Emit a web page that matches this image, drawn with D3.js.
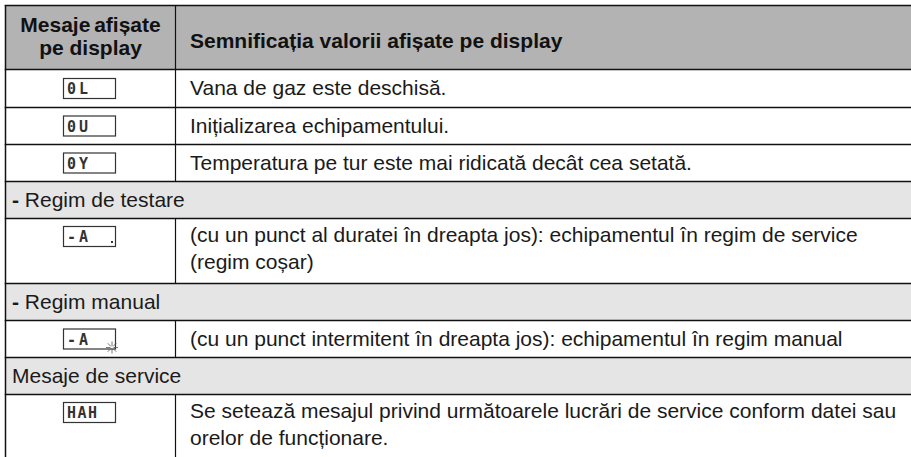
<!DOCTYPE html>
<html><head><meta charset="utf-8">
<script src="https://cdn.jsdelivr.net/npm/d3@7"></script>
<style>
html,body{margin:0;padding:0;background:#fff;}
svg{display:block;}
</style></head>
<body>
<script>
// ---- data ----
const headerCol1 = ["Mesaje afișate", "pe display"];
const headerCol2 = "Semnificația valorii afișate pe display";
const rowKinds = ["item","item","item","section","item","section","item","section","item"];
const rowCodes = ["0L","0U","0Y","","-A","","-A","","HAH"];
const rowMarks = ["","","","","dot","","flash","",""];
const rowDash  = [false,false,false,true,false,true,false,false,false];
const rowTexts = [
  ["Vana de gaz este deschisă."],
  ["Inițializarea echipamentului."],
  ["Temperatura pe tur este mai ridicată decât cea setată."],
  ["Regim de testare"],
  ["(cu un punct al duratei în dreapta jos): echipamentul în regim de service", "(regim coșar)"],
  ["Regim manual"],
  ["(cu un punct intermitent în dreapta jos): echipamentul în regim manual"],
  ["Mesaje de service"],
  ["Se setează mesajul privind următoarele lucrări de service conform datei sau", "orelor de funcționare."]
];

// ---- layout ----
const W = 911, H = 457;
const leftX = 5.5, colX = 175.5, rightX = 911;
const topY = 5, headerH = 64, baseRowH = 37, extraRow = 28, lineGap = 27;
const font = "'Liberation Sans', Arial, Helvetica, sans-serif";
const fs = 21;

const svg = d3.select("body").append("svg").attr("width", W).attr("height", H);

const rows = rowKinds.map((k, i) => ({kind:k, code:rowCodes[i], mark:rowMarks[i], dash:rowDash[i], lines:rowTexts[i]}));
let yy = topY + headerH;
rows.forEach((r, i) => {
  r.y0 = yy;
  r.h = (i === 0 ? baseRowH + 1 : baseRowH) + extraRow * (r.lines.length - 1);
  yy += r.h; r.y1 = yy;
});

// header background
svg.append("rect").attr("x", leftX).attr("y", topY).attr("width", rightX - leftX).attr("height", headerH).attr("fill", "#b3b3b3");
// section backgrounds
svg.selectAll("rect.sec").data(rows.filter(r => r.kind === "section")).join("rect")
  .attr("class","sec").attr("x", leftX).attr("y", d => d.y0).attr("width", rightX - leftX).attr("height", d => d.h)
  .attr("fill", "#e5e5e5");

// header text
const hc = (leftX + colX) / 2;
svg.selectAll("text.h1").data(headerCol1).join("text").attr("class","h1")
  .attr("x", hc).attr("y", (d,i) => topY + 27 + i * 23)
  .attr("text-anchor","middle").attr("font-family", font).attr("font-weight","bold")
  .attr("word-spacing", (d,i) => i === 0 ? -2 : 0)
  .attr("font-size", fs).attr("fill","#111").text(d => d);
svg.append("text").attr("x", 190).attr("y", topY + 43)
  .attr("font-family", font).attr("font-weight","bold").attr("font-size", fs).attr("fill","#111").text(headerCol2);

// row texts and display boxes
rows.forEach(r => {
  const isSec = r.kind === "section";
  const tx = isSec ? 12 : 190;
  const multi = r.lines.length > 1;
  const firstBase = r.y0 + (multi ? 24 : 26);
  r.lines.forEach((line, j) => {
    const t = svg.append("text").attr("x", tx).attr("y", firstBase + j * lineGap)
      .attr("font-family", font).attr("font-size", fs).attr("fill", "#1a1a1a");
    if (r.dash && j === 0) {
      t.append("tspan").attr("font-weight","bold").text("- ");
    }
    t.append("tspan").text(line);
  });
  if (!isSec) {
    const boxH = 20, boxX = 63, boxW = 52;
    const by = multi ? r.y0 + 8 : r.y0 + (r.h - boxH) / 2;
    const g = svg.append("g");
    g.append("rect").attr("x", boxX + 0.5).attr("y", by + 0.5).attr("width", boxW).attr("height", boxH)
      .attr("fill","#fff").attr("stroke","#333").attr("stroke-width", 1.2);
    g.append("text").attr("x", boxX + 4).attr("y", by + 16)
      .attr("font-family","'DejaVu Sans Mono', monospace").attr("font-size", 15)
      .attr("font-weight", "bold")
      .attr("letter-spacing", r.code === "HAH" ? 1.5 : 3)
      .attr("fill","#333").text(r.code);
    if (r.mark === "dot") {
      g.append("rect").attr("x", boxX + boxW - 4).attr("y", by + boxH - 5).attr("width", 2).attr("height", 2).attr("fill", "#333");
    }
    if (r.mark === "flash") {
      const cx = boxX + boxW - 3, cy = by + boxH - 1;
      d3.range(8).forEach(k => {
        const a = k * Math.PI / 4;
        g.append("line").attr("x1", cx + Math.cos(a) * 1.5).attr("y1", cy + Math.sin(a) * 1.5)
          .attr("x2", cx + Math.cos(a) * 6).attr("y2", cy + Math.sin(a) * 6)
          .attr("stroke", "#555").attr("stroke-width", 0.8);
      });
    }
  }
});

// grid lines
const hy = [topY, topY + headerH].concat(rows.map(r => r.y1));
svg.selectAll("line.hl").data(hy).join("line").attr("class","hl")
  .attr("x1", leftX - 0.75).attr("x2", rightX).attr("y1", d => d + 0.5).attr("y2", d => d + 0.5)
  .attr("stroke", "#111").attr("stroke-width", 1.5);
svg.append("line").attr("x1", leftX).attr("x2", leftX).attr("y1", topY).attr("y2", H)
  .attr("stroke", "#111").attr("stroke-width", 1.5);
const vsegs = [{y0: topY, y1: topY + headerH}].concat(rows.filter(r => r.kind === "item").map(r => ({y0: r.y0, y1: r.y1})));
svg.selectAll("line.vl").data(vsegs).join("line").attr("class","vl")
  .attr("x1", colX).attr("x2", colX).attr("y1", d => d.y0).attr("y2", d => d.y1)
  .attr("stroke", "#111").attr("stroke-width", 1.2);
</script>
</body></html>
